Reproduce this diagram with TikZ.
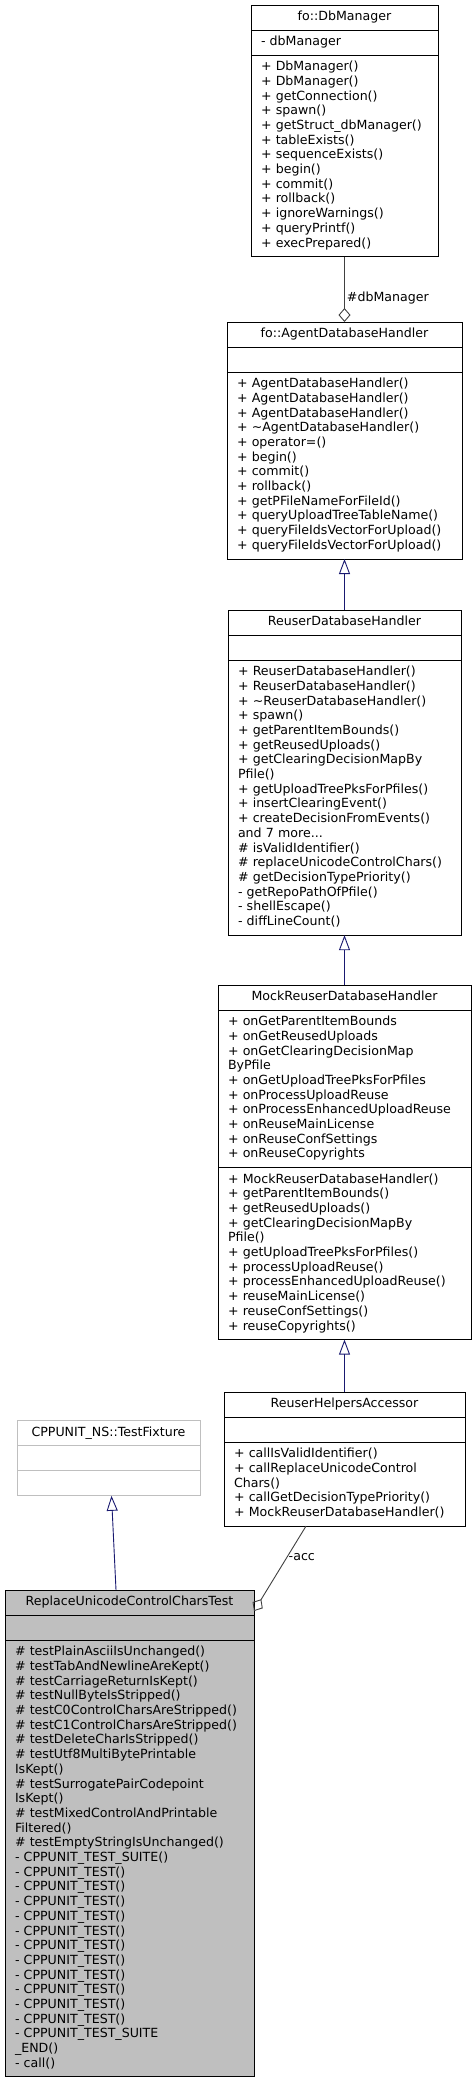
\documentclass[tikz,border=0pt]{standalone}
\usepackage{fontspec}
\setmainfont{DejaVu Sans}
\usetikzlibrary{arrows.meta}
\begin{document}
\begin{tikzpicture}[x=1pt,y=-1pt,font=\fontsize{12.6}{14.7}\selectfont,
  cls/.style={draw=black,line width=0.9pt,outer sep=0pt,inner xsep=10pt,inner ysep=5.2pt,
    text width=#1,align=left,execute at begin node={\hyphenpenalty=10000\strut},execute at end node=\strut},
  title/.style={cls=#1,align=center},
  inherit/.style={draw=edgeblue,line width=0.9pt,-{Triangle[open,length=15pt,width=11pt]}},
  aggr/.style={draw=edgegray,line width=0.9pt,{Diamond[open,length=14pt,width=12pt]}-}]
\definecolor{edgeblue}{RGB}{25,25,112}
\definecolor{edgegray}{RGB}{64,64,64}
\definecolor{boxgray}{RGB}{191,191,191}
\useasboundingbox (0,0) rectangle (476,2083);
% fo::DbManager
\node[title=167pt,anchor=north] (dbt) at (344.5,5) {fo::DbManager};
\node[cls=167pt,anchor=north] (dba) at (dbt.south) {- dbManager};
\node[cls=167pt,anchor=north] (dbm) at (dba.south) {+ DbManager()\\+ DbManager()\\+ getConnection()\\+ spawn()\\+ getStruct\_dbManager()\\+ tableExists()\\+ sequenceExists()\\+ begin()\\+ commit()\\+ rollback()\\+ ignoreWarnings()\\+ queryPrintf()\\+ execPrepared()};
% fo::AgentDatabaseHandler
\node[title=215pt,anchor=north] (adt) at (344.5,322) {fo::AgentDatabaseHandler};
\node[cls=215pt,anchor=north] (ada) at (adt.south) {};
\node[cls=215pt,anchor=north] (adm) at (ada.south) {+ AgentDatabaseHandler()\\+ AgentDatabaseHandler()\\+ AgentDatabaseHandler()\\+ \textasciitilde AgentDatabaseHandler()\\+ operator=()\\+ begin()\\+ commit()\\+ rollback()\\+ getPFileNameForFileId()\\+ queryUploadTreeTableName()\\+ queryFileIdsVectorForUpload()\\+ queryFileIdsVectorForUpload()};
% ReuserDatabaseHandler
\node[title=213pt,anchor=north] (rdt) at (344.5,610) {ReuserDatabaseHandler};
\node[cls=213pt,anchor=north] (rda) at (rdt.south) {};
\node[cls=213pt,anchor=north] (rdm) at (rda.south) {+ ReuserDatabaseHandler()\\+ ReuserDatabaseHandler()\\+ \textasciitilde ReuserDatabaseHandler()\\+ spawn()\\+ getParentItemBounds()\\+ getReusedUploads()\\+ getClearingDecisionMapBy\\Pfile()\\+ getUploadTreePksForPfiles()\\+ insertClearingEvent()\\+ createDecisionFromEvents()\\and 7 more...\\\# isValidIdentifier()\\\# replaceUnicodeControlChars()\\\# getDecisionTypePriority()\\- getRepoPathOfPfile()\\- shellEscape()\\- diffLineCount()};
% MockReuserDatabaseHandler
\node[title=233pt,anchor=north] (mkt) at (344.5,985) {MockReuserDatabaseHandler};
\node[cls=233pt,anchor=north] (mka) at (mkt.south) {+ onGetParentItemBounds\\+ onGetReusedUploads\\+ onGetClearingDecisionMap\\ByPfile\\+ onGetUploadTreePksForPfiles\\+ onProcessUploadReuse\\+ onProcessEnhancedUploadReuse\\+ onReuseMainLicense\\+ onReuseConfSettings\\+ onReuseCopyrights};
\node[cls=233pt,anchor=north] (mkm) at (mka.south) {+ MockReuserDatabaseHandler()\\+ getParentItemBounds()\\+ getReusedUploads()\\+ getClearingDecisionMapBy\\Pfile()\\+ getUploadTreePksForPfiles()\\+ processUploadReuse()\\+ processEnhancedUploadReuse()\\+ reuseMainLicense()\\+ reuseConfSettings()\\+ reuseCopyrights()};
% ReuserHelpersAccessor
\node[title=221pt,anchor=north] (hat) at (344.5,1392) {ReuserHelpersAccessor};
\node[cls=221pt,anchor=north] (haa) at (hat.south) {};
\node[cls=221pt,anchor=north] (ham) at (haa.south) {+ callIsValidIdentifier()\\+ callReplaceUnicodeControl\\Chars()\\+ callGetDecisionTypePriority()\\+ MockReuserDatabaseHandler()};
% CPPUNIT_NS::TestFixture
\node[title=163pt,draw=boxgray,anchor=north] (tft) at (108.5,1420.5) {CPPUNIT\_NS::TestFixture};
\node[cls=163pt,draw=boxgray,anchor=north] (tfa) at (tft.south) {};
\node[cls=163pt,draw=boxgray,anchor=north] (tfm) at (tfa.south) {};
% ReplaceUnicodeControlCharsTest
\node[title=229pt,fill=boxgray,anchor=north] (tct) at (129.5,1590) {ReplaceUnicodeControlCharsTest};
\node[cls=229pt,fill=boxgray,anchor=north] (tca) at (tct.south) {};
\node[cls=229pt,fill=boxgray,anchor=north] (tcm) at (tca.south) {\# testPlainAsciiIsUnchanged()\\\# testTabAndNewlineAreKept()\\\# testCarriageReturnIsKept()\\\# testNullByteIsStripped()\\\# testC0ControlCharsAreStripped()\\\# testC1ControlCharsAreStripped()\\\# testDeleteCharIsStripped()\\\# testUtf8MultiBytePrintable\\IsKept()\\\# testSurrogatePairCodepoint\\IsKept()\\\# testMixedControlAndPrintable\\Filtered()\\\# testEmptyStringIsUnchanged()\\- CPPUNIT\_TEST\_SUITE()\\- CPPUNIT\_TEST()\\- CPPUNIT\_TEST()\\- CPPUNIT\_TEST()\\- CPPUNIT\_TEST()\\- CPPUNIT\_TEST()\\- CPPUNIT\_TEST()\\- CPPUNIT\_TEST()\\- CPPUNIT\_TEST()\\- CPPUNIT\_TEST()\\- CPPUNIT\_TEST()\\- CPPUNIT\_TEST()\\- CPPUNIT\_TEST\_SUITE\\\_END()\\- call()};
% edges
\draw[aggr] (adt.north) -- (dbm.south) node[pos=0.37,right,inner sep=2pt,text=black] {\#dbManager};
\draw[inherit] (rdt.north) -- (adm.south);
\draw[inherit] (mkt.north) -- (rdm.south);
\draw[inherit] (hat.north) -- (mkm.south);
\draw[inherit] ([xshift=-13.5pt]tct.north) -- ([xshift=3pt]tfm.south);
\draw[aggr] ([yshift=4pt]tct.south east) -- ([xshift=82pt]ham.south west) node[pos=0.64,right,inner sep=1pt,text=black] {-acc};
\end{tikzpicture}
\end{document}
